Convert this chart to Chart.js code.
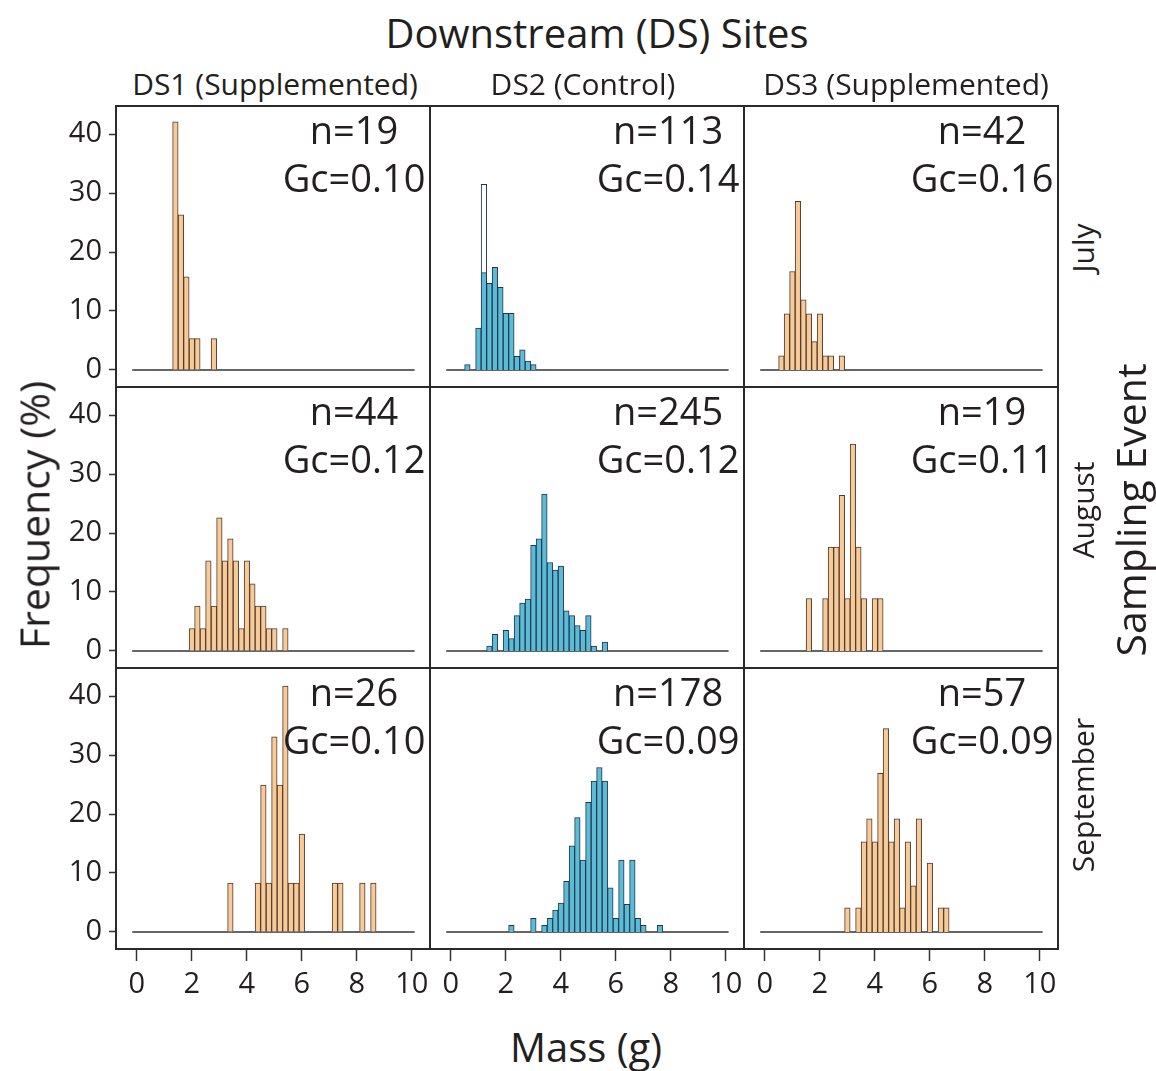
<!DOCTYPE html>
<html>
<head>
<meta charset="utf-8">
<script src="https://cdn.jsdelivr.net/npm/chart.js@4.4.1/dist/chart.umd.min.js"></script>
<style>
  body { margin: 0; background: #fff; }
  #wrap { position: relative; width: 1156px; height: 1071px; font-family: "Open Sans", sans-serif; color: #231f20; }
  canvas { position: absolute; }
  .lbl { position: absolute; white-space: nowrap; line-height: 1; transform: translate(-50%, -50%); }
  .rot { transform: translate(-50%, -50%) rotate(-90deg); }
</style>
</head>
<body>
<div id="wrap"></div>
<script>
// DATA (frequency %, one value per 0.2 g bin, first bin centre given by *_START)
const BIN_WIDTH = 0.2;
const SITES = ["DS1 (Supplemented)", "DS2 (Control)", "DS3 (Supplemented)"];
const MONTHS = ["July", "August", "September"];
const X_TICKS = [0, 2, 4, 6, 8, 10];
const Y_TICKS = [0, 10, 20, 30, 40];

const JUL_DS1_START = 1.4;
const JUL_DS1 = [42.1, 26.3, 15.8, 5.3, 5.3, 0, 0, 5.3];
const JUL_DS2_START = 0.6;
const JUL_DS2 = [0.9, 0, 7.1, 16.5, 14.7, 17.4, 14.0, 9.6, 9.6, 2.3, 3.4, 1.5, 0.9];
const JUL_DS2_OUTLINE = [null, null, null, 31.5, null, null, null, null, null, null, null, null, null];
const JUL_DS3_START = 0.6;
const JUL_DS3 = [2.4, 9.5, 16.7, 28.6, 11.9, 9.5, 4.8, 9.5, 2.4, 2.4, 0, 2.4];

const AUG_DS1_START = 2.0;
const AUG_DS1 = [3.8, 7.6, 3.8, 15.3, 7.6, 22.6, 15.3, 19.0, 15.3, 3.8, 15.3, 11.4, 7.6, 7.6, 3.8, 3.8, 0, 3.8];
const AUG_DS2_START = 1.4;
const AUG_DS2 = [0.8, 2.8, 0, 3.5, 2.1, 6.0, 8.1, 8.8, 17.9, 19.0, 26.6, 15.0, 13.7, 14.4, 6.8, 6.0, 4.3, 3.5, 6.0, 0.8, 0, 1.5];
const AUG_DS3_START = 1.6;
const AUG_DS3 = [8.9, 0, 0, 8.9, 17.6, 17.6, 26.4, 8.9, 35.1, 17.6, 8.9, 0, 8.9, 8.9];

const SEP_DS1_START = 3.4;
const SEP_DS1 = [8.3, 0, 0, 0, 0, 8.3, 24.9, 8.3, 33.1, 24.9, 41.7, 8.3, 8.3, 16.6, 0, 0, 0, 0, 0, 8.3, 8.3, 0, 0, 0, 8.3, 0, 8.3];
const SEP_DS2_START = 2.2;
const SEP_DS2 = [1.1, 0, 0, 0, 2.3, 0, 1.1, 2.3, 3.7, 4.9, 8.6, 14.6, 19.4, 12.2, 22.0, 25.6, 27.9, 25.6, 7.5, 2.3, 12.2, 4.7, 12.2, 2.3, 1.1, 0, 0, 1.1];
const SEP_DS3_START = 3.0;
const SEP_DS3 = [4.1, 0, 4.1, 15.3, 19.2, 15.3, 26.9, 34.5, 15.3, 19.2, 4.1, 15.3, 7.8, 19.2, 0, 11.7, 0, 4.1, 4.1];

const N_VALUES = [[19, 113, 42], [44, 245, 19], [26, 178, 57]];
const GC_VALUES = [["0.10", "0.14", "0.16"], ["0.12", "0.12", "0.11"], ["0.10", "0.09", "0.09"]];

// LAYOUT
const COL_LEFT = [116, 430, 744];
const ROW_TOP = [106, 387, 668];
const FRAME_W = 314, FRAME_H = 281;
const Y_AXIS_W = 60, X_AXIS_H = 56;
const X_MIN = -0.76, X_MAX = 10.66;
const Y_MIN = -2.9, Y_MAX = 44.78;

const ORANGE = { fill: "#f8ca98", edge: "#4a3a2c" };
const TEAL = { fill: "#5dbcd5", edge: "#1f3550" };

Chart.defaults.font.family = "'Open Sans', sans-serif";
Chart.defaults.color = "#231f20";

const panels = [
  { start: JUL_DS1_START, values: JUL_DS1 },
  { start: JUL_DS2_START, values: JUL_DS2, outline: JUL_DS2_OUTLINE },
  { start: JUL_DS3_START, values: JUL_DS3 },
  { start: AUG_DS1_START, values: AUG_DS1 },
  { start: AUG_DS2_START, values: AUG_DS2 },
  { start: AUG_DS3_START, values: AUG_DS3 },
  { start: SEP_DS1_START, values: SEP_DS1 },
  { start: SEP_DS2_START, values: SEP_DS2 },
  { start: SEP_DS3_START, values: SEP_DS3 },
];

const panelDecor = {
  id: "panelDecor",
  beforeDatasetsDraw(chart, args, opts) {
    const { ctx, scales: { x, y } } = chart;
    const y0 = y.getPixelForValue(0);
    ctx.save();
    ctx.strokeStyle = "#333";
    ctx.lineWidth = 1.5;
    ctx.beginPath();
    ctx.moveTo(x.getPixelForValue(opts.baseFrom), y0);
    ctx.lineTo(x.getPixelForValue(opts.baseTo), y0);
    ctx.stroke();
    ctx.restore();
  },
  afterDraw(chart, args, opts) {
    const { ctx, chartArea: a } = chart;
    ctx.save();
    ctx.strokeStyle = "#2a2a2a";
    ctx.lineWidth = 2;
    ctx.strokeRect(a.left, a.top, a.right - a.left, a.bottom - a.top);
    ctx.fillStyle = "#231f20";
    ctx.font = "38px 'Open Sans'";
    ctx.textAlign = "center";
    ctx.textBaseline = "middle";
    const cx = a.right - 76;
    ctx.fillText(opts.n, cx, a.top + 27);
    ctx.fillText(opts.gc, cx, a.top + 75);
    ctx.restore();
  },
};

// hidden axes must not reserve room, and tick labels must not shrink the frame
function fixSize(s, shown) {
  if (s.isHorizontal()) s.height = shown ? X_AXIS_H : 0;
  else s.width = shown ? Y_AXIS_W : 0;
  s.paddingTop = 0; s.paddingBottom = 0; s.paddingLeft = 0; s.paddingRight = 0;
}

const wrap = document.getElementById("wrap");

panels.forEach((p, i) => {
  const row = Math.floor(i / 3), col = i % 3;
  const leftAxis = col === 0, bottomAxis = row === 2;
  const colors = col === 1 ? TEAL : ORANGE;

  const c = document.createElement("canvas");
  c.width = FRAME_W + 2 + (leftAxis ? Y_AXIS_W : 0);
  c.height = FRAME_H + 2 + (bottomAxis ? X_AXIS_H : 0);
  c.style.left = (COL_LEFT[col] - 1 - (leftAxis ? Y_AXIS_W : 0)) + "px";
  c.style.top = (ROW_TOP[row] - 1) + "px";
  wrap.appendChild(c);

  const binX = (k) => +(p.start + k * BIN_WIDTH).toFixed(2);
  const barStyle = { borderWidth: 1, grouped: false, categoryPercentage: 1, barPercentage: 1 };
  const datasets = [{
    data: p.values.map((v, k) => ({ x: binX(k), y: v })),
    backgroundColor: colors.fill,
    borderColor: colors.edge,
    ...barStyle,
  }];
  if (p.outline) {
    datasets.push({
      data: p.outline.map((v, k) => ({ x: binX(k), y: v })).filter((d) => d.y !== null),
      backgroundColor: "#fff",
      borderColor: colors.edge,
      ...barStyle,
    });
  }

  new Chart(c, {
    type: "bar",
    data: { datasets },
    plugins: [panelDecor],
    options: {
      responsive: false,
      animation: false,
      devicePixelRatio: 1,
      layout: { padding: 1 },
      plugins: {
        legend: { display: false },
        tooltip: { enabled: false },
        panelDecor: {
          n: "n=" + N_VALUES[row][col],
          gc: "Gc=" + GC_VALUES[row][col],
          baseFrom: -0.17,
          baseTo: 10.1,
        },
      },
      scales: {
        x: {
          type: "linear",
          min: X_MIN,
          max: X_MAX,
          offset: false,
          display: bottomAxis,
          afterBuildTicks: (s) => { s.ticks = X_TICKS.map((v) => ({ value: v })); },
          afterFit: (s) => fixSize(s, bottomAxis),
          border: { display: false },
          grid: { offset: false, drawOnChartArea: false, tickLength: 12, tickColor: "#333", tickWidth: 1.5 },
          ticks: { padding: 6, color: "#231f20", maxRotation: 0, autoSkip: false, font: { size: 29, lineHeight: 1.2 } },
        },
        y: {
          min: Y_MIN,
          max: Y_MAX,
          display: leftAxis,
          afterBuildTicks: (s) => { s.ticks = Y_TICKS.map((v) => ({ value: v })); },
          afterFit: (s) => fixSize(s, leftAxis),
          border: { display: false },
          grid: { drawOnChartArea: false, tickLength: 11, tickBorderDash: [7, 4], tickBorderDashOffset: 7, tickColor: "#333", tickWidth: 1.5 },
          ticks: { padding: 3, color: "#231f20", font: { size: 29, lineHeight: 1 } },
        },
      },
    },
  });
});

// TEXT LABELS
function addLabel(text, x, y, size, rotate) {
  const d = document.createElement("div");
  d.className = "lbl" + (rotate ? " rot" : "");
  d.textContent = text;
  d.style.left = x + "px";
  d.style.top = y + "px";
  d.style.fontSize = size + "px";
  wrap.appendChild(d);
}

addLabel("Downstream (DS) Sites", 597, 33, 40, false);
const siteX = [275, 583, 906];
SITES.forEach((s, k) => addLabel(s, siteX[k], 84, 30, false));
const monthY = [248, 510, 795];
MONTHS.forEach((m, k) => addLabel(m, 1083, monthY[k], 30, true));
addLabel("Sampling Event", 1130, 510, 41, true);
addLabel("Frequency (%)", 34, 515, 41, true);
addLabel("Mass (g)", 586, 1047, 40, false);
</script>
</body>
</html>
